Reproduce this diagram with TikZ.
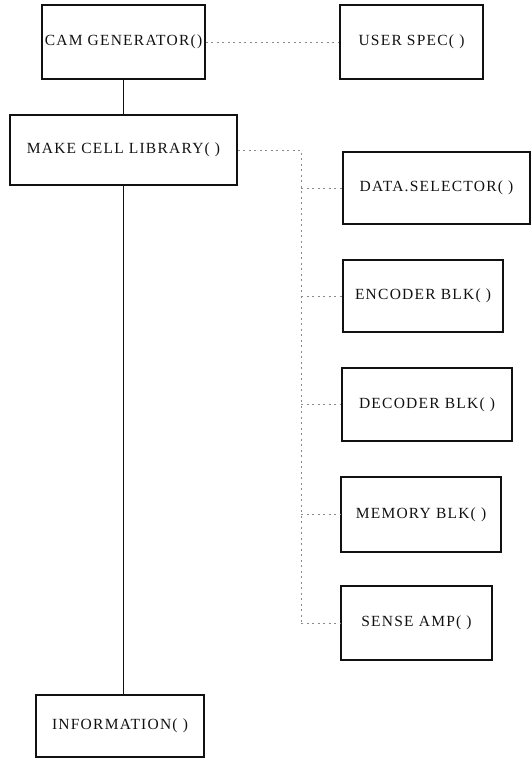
\documentclass[tikz,border=0pt]{standalone}
\usepackage{fontspec}
\setmainfont{Liberation Serif}[LetterSpace=8]
\usetikzlibrary{calc}
\definecolor{ink}{HTML}{111111}
\definecolor{faint}{HTML}{8A8A8A}
\tikzset{
  font=\fontsize{15.5}{18}\selectfont,
  blk/.style={draw=ink, line width=1.2pt, inner sep=0pt, text=ink},
  link/.style={draw=ink, line width=1.1pt},
  spec/.style={draw=faint, line width=0.8pt, dash pattern=on 2pt off 3.5pt},
}

\begin{document}
\begin{tikzpicture}[x=1pt,y=-1pt]
\useasboundingbox (0,0) rectangle (532,768);

% ---------------- main chain ----------------
\node[blk, minimum width=163pt, minimum height=74pt] (cam) at (123.5,42) {CAM GENERATOR()};
\node[blk, minimum width=227pt, minimum height=70pt] (make) at (123.5,150) {MAKE CELL LIBRARY( )};
\node[blk, minimum width=168pt, minimum height=62pt] (info) at (120,726) {INFORMATION( )};
\draw[link] (cam.south) -- (make.north);
\draw[link] (make.south) -- (make.south |- info.north);

% ---------------- user spec ----------------
\node[blk, minimum width=143pt, minimum height=74pt] (user) at (411.5,42) {USER SPEC( )};
\draw[spec] (cam.east) -- (user.west);

% ---------------- cell blocks ----------------
\node[blk, minimum width=187pt, minimum height=72pt] (data) at (436.5,188) {DATA.SELECTOR( )};
\node[blk, minimum width=160pt, minimum height=72pt] (enc) at (423,296) {ENCODER BLK( )};
\node[blk, minimum width=170pt, minimum height=73pt] (dec) at (427,404.5) {DECODER BLK( )};
\node[blk, minimum width=160pt, minimum height=75pt] (mem) at (421,514.5) {MEMORY BLK( )};
\node[blk, minimum width=151pt, minimum height=74pt] (sense) at (416.5,623) {SENSE AMP( )};

% a dotted bus from the library down past every block
\coordinate (bus) at (301,150);
\draw[spec] (make.east) -- (bus) -- (bus |- sense.west);
\foreach \b in {data,enc,dec,mem,sense}
  \draw[spec] (bus |- \b.west) -- (\b.west);

\end{tikzpicture}
\end{document}
